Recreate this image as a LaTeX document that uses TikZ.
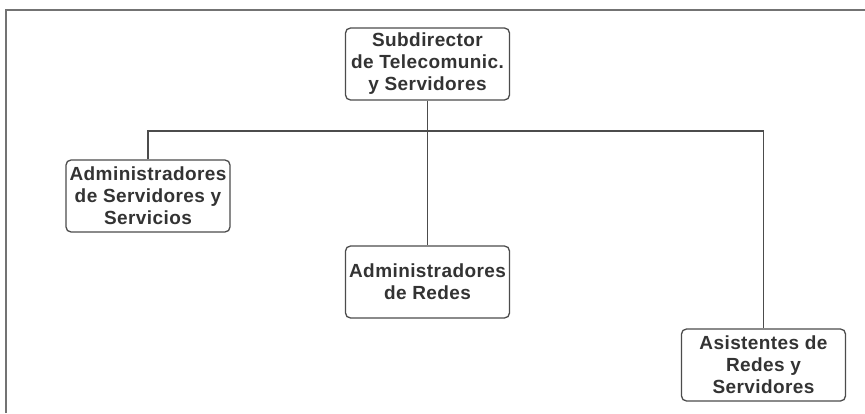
\documentclass[tikz,border=0pt]{standalone}
\usepackage{fontspec}
\setmainfont{Liberation Sans}[LetterSpace=2.2]
\begin{document}
\begin{tikzpicture}[x=1pt,y=1pt,
  orgbox/.style={draw=black!70, line width=1.3pt, rounded corners=5pt, fill=white,
    minimum width=164pt, minimum height=72pt, align=center, inner sep=1pt,
    text=black!80, font=\fontsize{19}{22}\selectfont\bfseries},
  link/.style={draw=black!70, line width=1.4pt},
  frame/.style={draw=black!55, line width=1.5pt}]
\useasboundingbox (0,0) rectangle (865,413);
\fill[white] (0,0) rectangle (865,413);
\draw[frame] (6,0) -- (6,403) -- (865,403);
\node[orgbox] (top) at (427.5,349) {Subdirector\\de Telecomunic.\\y Servidores};
\node[orgbox] (left) at (148,217) {Administradores\\de Servidores y\\Servicios};
\node[orgbox] (mid) at (427.5,131) {Administradores\\de Redes};
\node[orgbox] (right) at (763.5,48) {Asistentes de\\Redes y\\Servidores};
\coordinate (j) at (427.5,282);
\draw[link] (top.south) -- (mid.north);
\draw[link] (left.north) |- (j) -| (right.north);
\end{tikzpicture}
\end{document}
